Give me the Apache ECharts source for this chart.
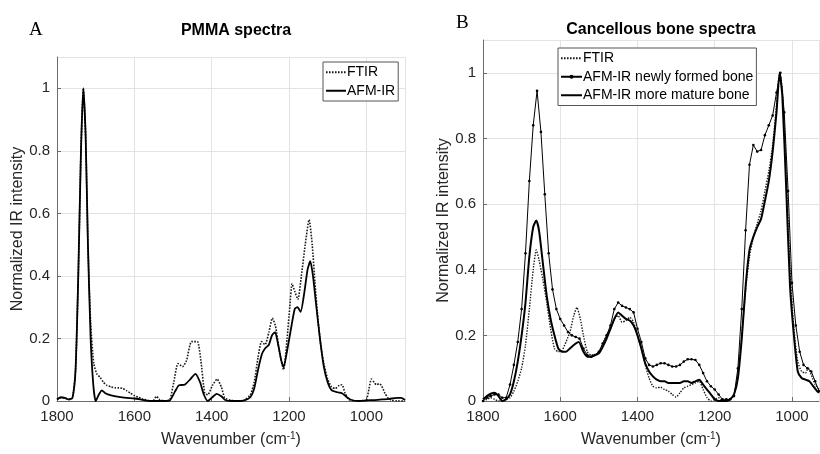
<!DOCTYPE html>
<html>
<head>
<meta charset="utf-8">
<script src="https://cdn.jsdelivr.net/npm/echarts@6/dist/echarts.min.js"></script>
<style>
  html, body { margin: 0; padding: 0; background: #fff; }
  #chart { width: 820px; height: 454px; }
</style>
</head>
<body>
<div id="chart"></div>
<script>
// Panel A: PMMA spectra, [wavenumber, normalized intensity]
const pmmaFtir = [
  [1800,0.005],[1790,0.01],[1780,0.01],[1770,0.005],[1760,0.01],[1752,0.1],[1745,0.4],[1738,0.8],
  [1732,1.0],[1726,0.85],[1720,0.5],[1713,0.25],[1705,0.12],[1697,0.087],[1688,0.075],[1680,0.06],
  [1671,0.05],[1660,0.045],[1650,0.042],[1640,0.042],[1630,0.04],[1620,0.033],[1610,0.025],[1600,0.017],
  [1590,0.012],[1580,0.007],[1565,0.002],[1552,0.0],[1543,0.015],[1535,0.005],[1520,0.0],[1508,0.005],
  [1498,0.06],[1487,0.12],[1475,0.11],[1465,0.13],[1452,0.19],[1437,0.19],[1428,0.13],[1418,0.025],
  [1410,0.02],[1398,0.05],[1386,0.07],[1375,0.045],[1366,0.01],[1350,0.002],[1330,0.0],[1315,0.003],
  [1300,0.02],[1290,0.06],[1280,0.14],[1271,0.19],[1262,0.18],[1252,0.22],[1243,0.265],[1235,0.24],
  [1225,0.16],[1214,0.1],[1205,0.2],[1198,0.3],[1192,0.375],[1185,0.35],[1177,0.325],[1168,0.4],
  [1158,0.5],[1148,0.58],[1140,0.5],[1133,0.38],[1125,0.26],[1118,0.18],[1110,0.12],[1100,0.07],
  [1090,0.045],[1080,0.04],[1070,0.05],[1063,0.052],[1055,0.025],[1046,0.005],[1030,0.0],[1010,0.0],
  [1000,0.002],[993,0.04],[987,0.07],[980,0.06],[974,0.052],[967,0.055],[961,0.05],[952,0.025],
  [944,0.01],[935,0.003],[920,0.0],[900,0.0]
];
const pmmaAfm = [
  [1800,0.005],[1790,0.012],[1780,0.01],[1770,0.005],[1760,0.01],[1752,0.1],[1745,0.4],[1738,0.8],
  [1732,1.0],[1726,0.85],[1720,0.5],[1713,0.2],[1706,0.05],[1700,0.0],[1692,0.02],[1684,0.034],
  [1675,0.025],[1660,0.018],[1640,0.013],[1620,0.01],[1600,0.008],[1580,0.004],[1560,0.0],[1540,0.0],
  [1520,0.0],[1508,0.002],[1495,0.03],[1485,0.05],[1470,0.052],[1455,0.07],[1442,0.087],[1430,0.06],
  [1420,0.02],[1410,0.0],[1400,0.01],[1387,0.023],[1375,0.015],[1365,0.003],[1350,0.0],[1330,0.0],
  [1315,0.002],[1300,0.012],[1290,0.04],[1280,0.1],[1270,0.15],[1262,0.168],[1252,0.18],[1244,0.21],
  [1236,0.22],[1228,0.18],[1220,0.13],[1214,0.108],[1205,0.16],[1195,0.23],[1185,0.295],[1178,0.3],
  [1170,0.285],[1160,0.35],[1152,0.42],[1145,0.447],[1138,0.4],[1130,0.31],[1120,0.2],[1110,0.11],
  [1100,0.06],[1090,0.035],[1075,0.028],[1063,0.025],[1050,0.012],[1040,0.004],[1020,0.0],[1000,0.002],
  [980,0.003],[960,0.005],[940,0.007],[920,0.01],[910,0.01],[900,0.003]
];

// Panel B: cancellous bone spectra
const boneFtir = [
  [1800,0.0],[1790,0.005],[1780,0.01],[1770,0.005],[1760,0.0],[1750,0.0],[1740,0.005],[1730,0.01],
  [1720,0.03],[1710,0.06],[1700,0.1],[1690,0.17],[1680,0.28],[1670,0.4],[1662,0.46],[1655,0.43],
  [1645,0.37],[1635,0.3],[1625,0.22],[1615,0.16],[1605,0.15],[1595,0.155],[1585,0.18],[1575,0.21],
  [1565,0.26],[1557,0.285],[1548,0.25],[1540,0.2],[1530,0.15],[1520,0.14],[1510,0.14],[1500,0.15],
  [1490,0.175],[1480,0.2],[1470,0.22],[1460,0.25],[1450,0.26],[1440,0.24],[1430,0.245],[1420,0.255],
  [1410,0.24],[1400,0.2],[1390,0.16],[1380,0.11],[1370,0.07],[1360,0.045],[1350,0.04],[1340,0.042],
  [1330,0.035],[1320,0.03],[1310,0.02],[1300,0.012],[1290,0.025],[1280,0.04],[1270,0.045],[1260,0.05],
  [1250,0.055],[1240,0.06],[1230,0.035],[1220,0.01],[1210,0.0],[1200,0.005],[1190,0.01],[1180,0.0],
  [1170,0.0],[1160,0.005],[1150,0.02],[1140,0.08],[1130,0.2],[1120,0.34],[1110,0.44],[1100,0.5],
  [1090,0.54],[1080,0.58],[1070,0.64],[1060,0.7],[1050,0.78],[1040,0.9],[1032,1.0],[1025,0.95],
  [1015,0.7],[1005,0.4],[995,0.22],[985,0.12],[975,0.09],[965,0.085],[958,0.1],[950,0.08],
  [940,0.05],[930,0.035]
];
const boneNew = [
  [1800,0.0],[1790,0.01],[1780,0.015],[1770,0.02],[1760,0.02],[1750,0.01],[1740,0.01],[1730,0.05],
  [1720,0.11],[1710,0.18],[1700,0.28],[1690,0.45],[1680,0.67],[1670,0.84],[1660,0.945],[1650,0.82],
  [1640,0.63],[1630,0.45],[1620,0.34],[1610,0.28],[1600,0.25],[1590,0.23],[1580,0.21],[1570,0.2],
  [1560,0.195],[1550,0.19],[1540,0.16],[1530,0.14],[1520,0.135],[1510,0.14],[1500,0.15],[1490,0.175],
  [1480,0.2],[1470,0.23],[1460,0.28],[1450,0.3],[1440,0.29],[1430,0.285],[1420,0.28],[1410,0.27],
  [1400,0.22],[1390,0.18],[1380,0.13],[1370,0.11],[1360,0.105],[1350,0.11],[1340,0.115],[1330,0.115],
  [1320,0.11],[1310,0.105],[1300,0.105],[1290,0.11],[1280,0.12],[1270,0.127],[1260,0.127],[1250,0.125],
  [1240,0.11],[1230,0.085],[1220,0.06],[1210,0.045],[1200,0.035],[1190,0.02],[1180,0.005],[1170,0.005],
  [1160,0.005],[1150,0.015],[1140,0.1],[1130,0.28],[1120,0.52],[1110,0.72],[1100,0.78],[1090,0.76],
  [1080,0.765],[1070,0.81],[1060,0.84],[1050,0.87],[1040,0.94],[1030,1.0],[1020,0.88],[1010,0.64],
  [1000,0.36],[990,0.23],[980,0.15],[970,0.11],[960,0.1],[950,0.09],[940,0.06],[930,0.03]
];
const boneMature = [
  [1800,0.005],[1790,0.015],[1780,0.022],[1770,0.025],[1760,0.015],[1750,0.0],[1740,0.005],[1730,0.02],
  [1720,0.06],[1710,0.12],[1700,0.2],[1690,0.3],[1680,0.44],[1670,0.53],[1662,0.55],[1655,0.52],
  [1645,0.42],[1635,0.32],[1625,0.25],[1615,0.2],[1605,0.16],[1595,0.15],[1585,0.15],[1575,0.16],
  [1560,0.175],[1552,0.18],[1540,0.15],[1530,0.135],[1520,0.135],[1510,0.14],[1500,0.145],[1490,0.165],
  [1480,0.19],[1470,0.22],[1460,0.25],[1450,0.27],[1440,0.26],[1430,0.25],[1420,0.245],[1410,0.23],
  [1400,0.2],[1390,0.16],[1380,0.115],[1370,0.09],[1360,0.075],[1350,0.065],[1340,0.06],[1330,0.06],
  [1320,0.055],[1310,0.055],[1300,0.055],[1290,0.055],[1280,0.06],[1270,0.06],[1260,0.055],[1250,0.06],
  [1240,0.065],[1230,0.05],[1220,0.035],[1210,0.02],[1200,0.005],[1190,0.0],[1180,0.0],[1170,0.0],
  [1160,0.005],[1150,0.02],[1140,0.07],[1130,0.19],[1120,0.35],[1110,0.46],[1100,0.5],[1090,0.53],
  [1080,0.555],[1070,0.61],[1060,0.67],[1050,0.76],[1040,0.88],[1032,1.0],[1025,0.93],[1015,0.65],
  [1005,0.35],[995,0.2],[985,0.09],[975,0.07],[965,0.065],[955,0.06],[945,0.045],[935,0.03],[930,0.025]
];

const xTicks = [1000, 1200, 1400, 1600, 1800];
const yTicks = [0, 0.2, 0.4, 0.6, 0.8, 1];

const font = 'Liberation Sans, Arial, sans-serif';
const gridColor = '#e3e3e3';
const axisColor = '#6b6b6b';
const textColor = '#262626';

function xAxisFor(gridIndex, min, nameGap) {
  return {
    gridIndex: gridIndex,
    type: 'value',
    inverse: true,
    min: min,
    max: 1800,
    splitNumber: 4,
    name: 'Wavenumber (cm{sup|-1})',
    nameLocation: 'middle',
    nameGap: nameGap,
    nameTextStyle: {
      fontFamily: font, fontSize: 16, color: textColor, lineHeight: 18,
      rich: { sup: { fontFamily: font, fontSize: 10, verticalAlign: 'top', lineHeight: 18, color: textColor } },
    },
    axisLine: { show: true, onZero: false, lineStyle: { color: axisColor, width: 1 } },
    axisTick: { show: true, inside: true, length: 4, lineStyle: { color: axisColor } },
    axisLabel: {
      showMinLabel: false, margin: 8, fontFamily: font, fontSize: 15, color: textColor,
      formatter: (v) => (xTicks.includes(v) ? String(v) : ''),
    },
    splitLine: { show: true, lineStyle: { color: gridColor, width: 1 } },
  };
}

function yAxisFor(gridIndex, nameGap) {
  return {
    gridIndex: gridIndex,
    type: 'value',
    min: 0,
    max: 1.1,
    interval: 0.2,
    name: 'Normalized IR intensity',
    nameLocation: 'middle',
    nameGap: nameGap,
    nameTextStyle: { fontFamily: font, fontSize: 16, color: textColor },
    axisLine: { show: true, lineStyle: { color: axisColor, width: 1 } },
    axisTick: { show: true, inside: true, length: 4, lineStyle: { color: axisColor } },
    axisLabel: {
      showMaxLabel: false, margin: 7, fontFamily: font, fontSize: 15, color: textColor,
      formatter: (v) => {
        const hit = yTicks.find((t) => Math.abs(t - v) < 1e-6);
        return hit === undefined ? '' : String(hit);
      },
    },
    splitLine: { show: true, lineStyle: { color: gridColor, width: 1 } },
  };
}

const chart = echarts.init(document.getElementById('chart'), null, { renderer: 'canvas' });

const legendText = { fontFamily: font, fontSize: 14, color: '#000', lineHeight: 16.5, padding: [0, 0, 0, -4] };
// plain-line legend entries: hide the marker, keep the line
const noMarker = { opacity: 0 };

const option = {
  animation: false,
  backgroundColor: '#fff',
  title: [
    { text: 'PMMA spectra', left: 231, top: 18, textAlign: 'center',
      textStyle: { fontFamily: font, fontSize: 16, fontWeight: 'bold', color: '#000' } },
    { text: 'Cancellous bone spectra', left: 656, top: 17, textAlign: 'center',
      textStyle: { fontFamily: font, fontSize: 16, fontWeight: 'bold', color: '#000' } },
    { text: 'A', left: 24, top: 16,
      textStyle: { fontFamily: 'Liberation Serif, Times New Roman, serif', fontSize: 19, fontWeight: 'normal', color: '#000' } },
    { text: 'B', left: 451, top: 9,
      textStyle: { fontFamily: 'Liberation Serif, Times New Roman, serif', fontSize: 19, fontWeight: 'normal', color: '#000' } },
  ],
  legend: [
    {
      data: [
        { name: 'FTIR', itemStyle: noMarker },
        { name: 'AFM-IR', itemStyle: noMarker },
      ],
      left: 323, top: 62, orient: 'vertical',
      itemWidth: 20, itemHeight: 5, itemGap: 2,
      padding: [2, 3, 2, 2],
      backgroundColor: '#fff', borderColor: '#555', borderWidth: 1, borderRadius: 0,
      textStyle: legendText,
    },
    {
      data: [
        { name: 'FTIR', itemStyle: noMarker },
        'AFM-IR newly formed bone',
        { name: 'AFM-IR more mature bone', itemStyle: noMarker },
      ],
      left: 558, top: 48, orient: 'vertical',
      itemWidth: 21, itemHeight: 5, itemGap: 2,
      padding: [2, 3, 2, 2],
      backgroundColor: '#fff', borderColor: '#555', borderWidth: 1, borderRadius: 0,
      textStyle: legendText,
    },
  ],
  grid: [
    { left: 57, top: 57, width: 348, height: 347, containLabel: false },
    { left: 483, top: 40, width: 336, height: 363, containLabel: false },
  ],
  xAxis: [xAxisFor(0, 900, 30), xAxisFor(1, 930, 30)],
  yAxis: [yAxisFor(0, 30), yAxisFor(1, 25)],
  series: [
    {
      name: 'FTIR', type: 'line', xAxisIndex: 0, yAxisIndex: 0,
      data: pmmaFtir, symbol: 'none', smooth: 0.2,
      lineStyle: { color: '#1a1a1a', width: 1.6, type: [1.6, 1.4] },
      itemStyle: { color: '#1a1a1a' },
    },
    {
      name: 'AFM-IR', type: 'line', xAxisIndex: 0, yAxisIndex: 0,
      data: pmmaAfm, symbol: 'none', smooth: 0.2,
      lineStyle: { color: '#000', width: 1.8 },
      itemStyle: { color: '#000' },
    },
    {
      name: 'FTIR', type: 'line', xAxisIndex: 1, yAxisIndex: 1,
      data: boneFtir, symbol: 'none', smooth: 0.2,
      lineStyle: { color: '#1a1a1a', width: 1.4, type: [1.4, 1.4] },
      itemStyle: { color: '#1a1a1a' },
    },
    {
      name: 'AFM-IR newly formed bone', type: 'line', xAxisIndex: 1, yAxisIndex: 1,
      data: boneNew, showSymbol: true, symbol: 'circle', symbolSize: 2.6,
      lineStyle: { color: '#000', width: 1 },
      itemStyle: { color: '#000' },
    },
    {
      name: 'AFM-IR more mature bone', type: 'line', xAxisIndex: 1, yAxisIndex: 1,
      data: boneMature, symbol: 'none', smooth: 0.2,
      lineStyle: { color: '#000', width: 2 },
      itemStyle: { color: '#000' },
    },
  ],
};

chart.setOption(option);

window.addEventListener('resize', () => chart.resize());
</script>
</body>
</html>
